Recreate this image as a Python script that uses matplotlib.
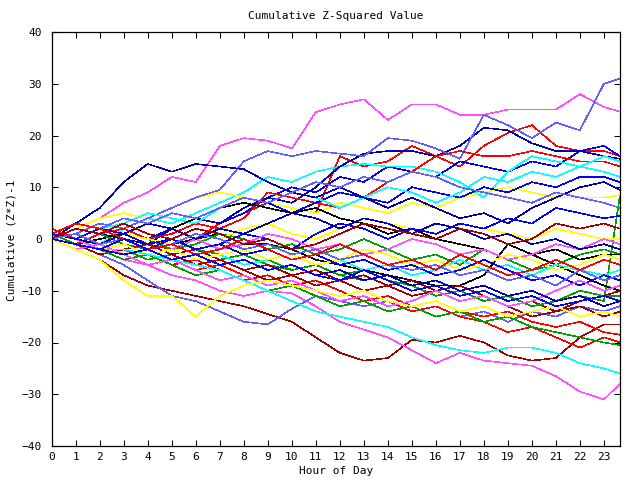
import matplotlib
matplotlib.use("Agg")
import matplotlib.pyplot as plt

plt.rcParams['font.family'] = ['DejaVu Sans Mono']

hours = [0, 1, 2, 3, 4, 5, 6, 7, 8, 9, 10, 11, 12, 13, 14, 15, 16, 17, 18, 19, 20, 21, 22, 23, 23.67]

# red series
r1 = [1, 0, -1, 1, -1, -2, 0, 3, 5, 7, 6, 5, 16, 14, 15, 18, 16, 14, 18, 20.5, 22, 18, 17, 17, 16]
r2 = [0, -1, 1, 2, 0, 1, 3, 2, 4, 9, 8, 7, 6, 8, 11, 13, 16, 17, 16, 16, 17, 16, 15, 15, 14]
r3 = [2, 0, -2, -1, -3, -5, -4, -6, -8, -7, -9, -8, -10, -12, -11, -13, -12, -14, -15, -14, -16, -17, -16, -18, -18.5]
r4 = [0, -2, -1, -3, -5, -4, -6, -5, -7, -9, -8, -10, -11, -10, -12, -14, -13, -15, -16, -18, -17, -19, -21, -19, -20]
r5 = [1, 3, 2, 0, -2, -1, -3, -2, 0, -2, -4, -3, -1, -3, -5, -4, -6, -3, -5, -7, -6, -4, -6, -4, -5]
# green series
g1 = [0, -1, -3, -2, -4, -3, -5, -4, -3, -5, -6, -5, -7, -8, -7, -9, -8, -10, -9, -11, -10, -12, -11, -12, 8.5]
g2 = [1, 0, -1, 1, 0, -2, -1, 1, 0, -2, -1, -3, -2, 0, -2, -4, -3, -5, -2, -4, -6, -5, -3, -2, -3]
g3 = [0, 2, 1, -1, -2, 0, -2, -3, -5, -4, -6, -5, -7, -6, -8, -9, -11, -10, -12, -11, -13, -12, -10, -11, -11]
g4 = [1, -1, -2, -4, -3, -5, -7, -6, -8, -10, -9, -11, -13, -12, -14, -13, -15, -14, -16, -15, -17, -18, -19, -20, -20.5]
# blue series
b1 = [0, 1, 3, 2, 0, 2, 4, 3, 5, 8, 10, 9, 12, 11, 14, 13, 12, 15, 14, 13, 15, 14, 17, 18, 16]
b2 = [2, 0, -1, 1, 3, 5, 4, 6, 8, 7, 5, 7, 9, 8, 7, 10, 9, 8, 10, 9, 11, 10, 12, 12, 11]
b3 = [0, -2, -1, -3, -2, 0, -2, -1, 1, 0, -2, 1, 3, 2, 0, 2, 1, 3, 2, 4, 3, 6, 5, 4, 4.5]
b4 = [1, 0, 2, 1, -1, 0, -2, -1, -3, -2, -4, -3, -5, -4, -6, -5, -7, -6, -4, -6, -8, -7, -9, -7, -8]
b5 = [0, -1, -2, 0, -2, -4, -3, -5, -4, -6, -5, -7, -8, -6, -8, -10, -9, -11, -10, -12, -11, -13, -12, -11, -12]
# magenta series
m1 = [0, 2, 4, 7, 9, 12, 11, 18, 19.5, 19, 17.5, 24.5, 26, 27, 23, 26, 26, 24, 24, 25, 25, 25, 28, 25.5, 24.6]
m2 = [0, -1, -2, -4, -5, -7, -8, -10, -11, -10, -10.5, -13, -16, -17.5, -19, -21.5, -24, -22, -23.5, -24, -24.5, -26.5, -29.5, -31, -28]
m3 = [1, 0, -2, -1, -3, -2, 0, -2, -1, 1, 0, -2, -1, -3, -2, 0, -1, -3, -2, -4, -3, -1, -2, 0, -1]
m4 = [0, -2, -1, -3, -5, -4, -6, -8, -7, -9, -8, -10, -12, -11, -13, -12, -10, -12, -11, -13, -12, -10, -8, -10, -9]
# cyan series
c1 = [0, 1, -1, 2, 4, 3, 5, 7, 9, 12, 11, 13, 14, 14.5, 14, 14, 13, 11, 8, 13, 16, 15, 14, 13, 12]
c2 = [1, 0, 2, 3, 5, 4, 3, 6, 8, 7, 9, 8, 6, 8, 10, 9, 7, 9, 12, 11, 13, 12, 14, 16, 15]
c3 = [0, -1, -2, -1, -3, -2, -4, -3, -5, -4, -3, -5, -4, -6, -5, -7, -6, -4, -6, -5, -7, -5, -6, -7, -6]
c4 = [0, -1, -2, -2, -3, -4, -5, -6, -8, -10, -12, -14, -15, -16, -17, -19, -20.5, -21.5, -22, -21, -21, -22, -24, -25, -26]
# dark red series
d1 = [0, -2, -4, -7, -9, -10, -11, -12, -13, -14.5, -16, -19, -22, -23.5, -23, -19.5, -20, -18.7, -20, -22.5, -23.5, -23, -19, -16.5, -16.5]
d2 = [1, 0, -1, 1, -1, -3, -2, -4, -6, -5, -7, -6, -8, -7, -9, -8, -10, -9, -11, -13, -12, -14, -12, -11, -10]
d3 = [0, -1, -3, -2, -1, -3, -5, -4, -6, -8, -7, -9, -8, -10, -9, -11, -10, -12, -11, -13, -15, -14, -13, -15, -14]
d4 = [0, 2, 1, 3, 1, 0, 2, 1, -1, 0, -2, -1, 1, 3, 2, 1, 0, 2, 1, -1, 0, 3, 2, 3, 2]
# yellow series
y1 = [0, 2, 4, 5, 4, 6, 8, 9, 8, 7, 6, 5, 7, 6, 5, 7, 6, 8, 9, 10, 9, 8, 8, 8, 8.5]
y2 = [1, 0, 2, 1, 0, -1, 1, 0, 2, 3, 1, 0, 2, 4, 3, 2, 1, 3, 2, 1, 0, 2, 1, 0, 0]
y3 = [0, -1, -2, -1, -3, -2, -4, -3, -2, -4, -3, -5, -4, -2, -3, -5, -4, -6, -5, -3, -4, -6, -5, -3, -4]
y4 = [0, -2, -4, -8, -11, -11, -15, -11, -9, -8, -9, -10, -11, -10, -12, -13, -12, -14, -13, -15, -14, -13, -15, -14, -15]
# navy series
n1 = [0, -1, 1, 0, -1, 2, 4, 3, 6, 8, 7, 10, 14, 16.5, 17, 17, 16, 18, 21.5, 21, 18.5, 17, 17, 16, 15.5]
n2 = [0, 3, 6, 11, 14.5, 13, 14.5, 14, 13.5, 11, 9, 8, 10, 8, 6, 8, 6, 4, 5, 3, 6, 8, 10, 11, 9.5]
n3 = [1, 0, -1, 1, 3, 2, 0, 2, 1, 3, 5, 4, 2, 4, 3, 1, 3, 2, 0, 1, -1, 0, -2, -1, -2]
n4 = [0, -1, -2, -3, -2, -4, -3, -5, -4, -6, -5, -7, -6, -8, -7, -9, -8, -10, -9, -11, -10, -12, -11, -13, -12]
# light blue series
lb1 = [0, 1, 3, 2, 4, 6, 8, 9.5, 15, 17, 16, 17, 16.5, 16, 19.5, 19, 17.5, 15.5, 24, 22, 19.5, 22.5, 21, 30, 31]
lb2 = [0, -1, -3, -5, -8, -11, -12, -14, -16, -16.5, -13.5, -11, -12, -13, -12, -14, -13, -15, -14, -16, -14, -15, -13, -14, -13]
lb3 = [1, 0, 2, 4, 3, 5, 4, 6, 8, 7, 9, 11, 10, 12, 11, 13, 12, 10, 9, 8, 7, 9, 8, 7, 6]
lb4 = [0, 1, -1, 0, -2, -1, 1, 0, -2, -1, -3, -2, -4, -3, -5, -6, -5, -7, -6, -8, -7, -9, -6, -8, -7]
# black series
k1 = [0, -1, 0, 1, 0, -1, 0, 1, -1, -1, -2, -4, -5, -6, -7, -8, -9, -9, -7, -1, -3, -5, -7, -9, -10]
k2 = [1, 0, 2, 1, 3, 2, 4, 6, 7, 6, 5, 6, 4, 3, 1, 2, 0, -1, -2, -4, -3, -2, -4, -3, -3]

groups = [
    ("#ff0000", [r1, r2, r3, r4, r5]),
    ("#00a000", [g1, g2, g3, g4]),
    ("#0000ff", [b1, b2, b3, b4, b5]),
    ("#ff50ff", [m1, m2, m3, m4]),
    ("#00ffff", [c1, c2, c3, c4]),
    ("#a00000", [d1, d2, d3, d4]),
    ("#ffff00", [y1, y2, y3, y4]),
    ("#0000b0", [n1, n2, n3, n4]),
    ("#6060ff", [lb1, lb2, lb3, lb4]),
    ("#000000", [k1, k2]),
]

fig = plt.figure(figsize=(6.4, 4.8), dpi=100)
ax = fig.add_axes([51.7 / 640, 1 - 446 / 480, (620 - 51.7) / 640, (446 - 32) / 480])

maxlen = max(len(s) for _, s in groups)
for k in range(maxlen):
    for col, series in groups:
        if k < len(series):
            ax.plot(hours, series[k], color=col, lw=0.4, antialiased=False, zorder=2)

ax.set_xlim(0, 23.67)
ax.set_ylim(-40, 40)
ax.set_xticks(range(24))
ax.set_yticks(range(-40, 41, 10))
ax.tick_params(direction='in', length=4, width=0.75, top=True, right=True,
               labelsize=8, pad=4)
ax.tick_params(axis='y', pad=7)
for s in ax.spines.values():
    s.set_linewidth(0.9)

fig.text(336 / 640, 1 - 16 / 480, "Cumulative Z-Squared Value", ha='center', va='center', fontsize=8)
fig.text(336 / 640, 1 - 471 / 480, "Hour of Day", ha='center', va='center', fontsize=8)
fig.text(12 / 640, 0.5, "Cumulative (Z*Z)-1", ha='center', va='center', rotation=90, fontsize=8)

fig.savefig("out.png", dpi=100)
